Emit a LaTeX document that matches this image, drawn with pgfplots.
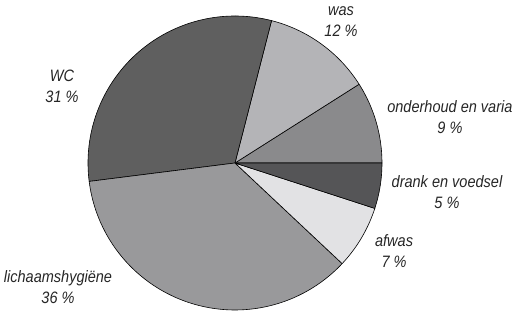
\documentclass[border=0pt]{standalone}
\usepackage{pgfplots}
\pgfplotsset{compat=1.18}
\usepackage{fontspec}
\setmainfont{Liberation Sans}[FakeStretch=0.88]
\definecolor{cOnd}{HTML}{8A8A8C}
\definecolor{cWas}{HTML}{B4B4B7}
\definecolor{cWC}{HTML}{5F5F5F}
\definecolor{cLich}{HTML}{99999B}
\definecolor{cAfw}{HTML}{E2E2E4}
\definecolor{cDrk}{HTML}{555557}
\tikzset{lbl/.style={font=\fontsize{16.5}{21}\selectfont\itshape, align=center, text=black!85}}
\begin{document}
\begin{tikzpicture}
\begin{axis}[
  x=147pt, y=147pt,
  xmin=-1.5986, xmax=1.9116, ymin=-1.0, ymax=1.1088,
  hide axis, clip=false,
  every axis plot/.append style={draw=black, line width=0.6pt, line join=round},
]
\path (rel axis cs:0,0) rectangle (rel axis cs:1,1);
% percentages: onderhoud en varia 9, was 12, WC 31, lichaamshygiene 36, afwas 7, drank en voedsel 5
\addplot[fill=cOnd, domain=0:9*3.6, samples=40, variable=\t] ({cos(\t)},{sin(\t)}) -- (axis cs:0,0) -- cycle;
\addplot[fill=cWas, domain=9*3.6:21*3.6, samples=40, variable=\t] ({cos(\t)},{sin(\t)}) -- (axis cs:0,0) -- cycle;
\addplot[fill=cWC, domain=21*3.6:52*3.6, samples=80, variable=\t] ({cos(\t)},{sin(\t)}) -- (axis cs:0,0) -- cycle;
\addplot[fill=cLich, domain=52*3.6:88*3.6, samples=90, variable=\t] ({cos(\t)},{sin(\t)}) -- (axis cs:0,0) -- cycle;
\addplot[fill=cAfw, domain=88*3.6:95*3.6, samples=30, variable=\t] ({cos(\t)},{sin(\t)}) -- (axis cs:0,0) -- cycle;
\addplot[fill=cDrk, domain=95*3.6:100*3.6, samples=30, variable=\t] ({cos(\t)},{sin(\t)}) -- (axis cs:0,0) -- cycle;
\node[lbl] at (axis cs:0.721,0.959) {was\\12 \%};
\node[lbl] at (axis cs:1.462,0.313) {onderhoud en varia\\9 \%};
\node[lbl] at (axis cs:1.442,-0.197) {drank en voedsel\\5 \%};
\node[lbl] at (axis cs:1.082,-0.599) {afwas\\7 \%};
\node[lbl] at (axis cs:-1.204,-0.844) {lichaamshygiëne\\36 \%};
\node[lbl] at (axis cs:-1.177,0.524) {WC\\31 \%};
\end{axis}
\end{tikzpicture}
\end{document}
